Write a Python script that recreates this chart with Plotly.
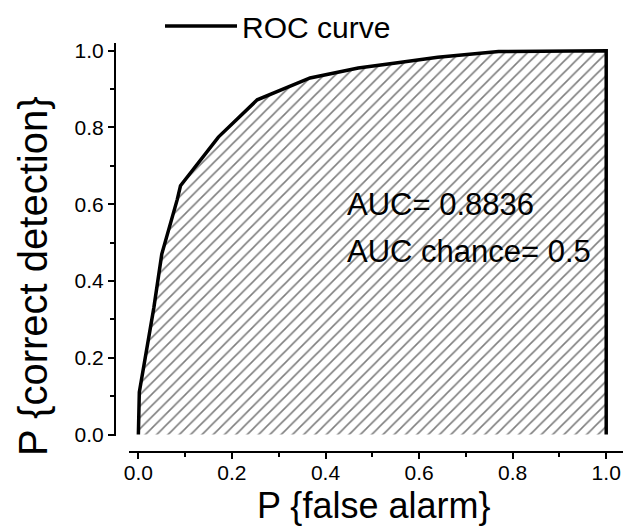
import plotly.graph_objects as go

# ROC curve points
far = [0.0, 0.002, 0.033, 0.05, 0.083, 0.09, 0.171, 0.254, 0.367, 0.47, 0.55, 0.64, 0.77, 1.0, 1.0]
pcd = [0.0, 0.11, 0.33, 0.47, 0.612, 0.648, 0.775, 0.872, 0.929, 0.955, 0.968, 0.983, 0.998, 1.0, 0.0]

x_ticks = [0.0, 0.2, 0.4, 0.6, 0.8, 1.0]
y_ticks = [0.0, 0.2, 0.4, 0.6, 0.8, 1.0]
auc_lines = ["AUC= 0.8836", "AUC chance= 0.5"]
auc_pos_x = 0.442
auc_pos_y = [0.600, 0.476]

FONT = "Liberation Sans, Arial, sans-serif"
W, H = 623, 526

fig = go.Figure()
fig.add_trace(go.Scatter(
    x=far, y=pcd, mode="lines", fill="tozeroy",
    line=dict(width=0, color="rgba(0,0,0,0)"),
    fillpattern=dict(shape="/", size=8, solidity=0.2, fgcolor="black", bgcolor="white"),
    fillcolor="white",
    showlegend=False, hoverinfo="skip", cliponaxis=False,
))
fig.add_trace(go.Scatter(
    x=far, y=pcd, mode="lines", name="ROC curve",
    line=dict(width=3.5, color="black"), cliponaxis=False,
))

for t, yy in zip(auc_lines, auc_pos_y):
    fig.add_annotation(x=auc_pos_x, y=yy, xref="x", yref="y", text=t, showarrow=False,
                       xanchor="left", yanchor="middle",
                       font=dict(family=FONT, size=31, color="black"))

# axis titles placed as in the reference
fig.add_annotation(x=33 / W, y=1 - 276 / H, xref="paper", yref="paper",
                   text="P {correct detection}", textangle=-90, showarrow=False,
                   xanchor="center", yanchor="middle",
                   font=dict(family=FONT, size=40, color="black"))
fig.add_annotation(x=373 / W, y=1 - 505 / H, xref="paper", yref="paper",
                   text="P {false alarm}", showarrow=False, borderpad=0,
                   xanchor="center", yanchor="middle",
                   font=dict(family=FONT, size=36, color="black"))

axis_common = dict(
    showline=True, linecolor="black", linewidth=2,
    ticks="outside", ticklen=6, tickwidth=1.5, tickcolor="black",
    showgrid=False, zeroline=False,
    tickfont=dict(family=FONT, size=21, color="black"),
    tickformat=".1f",
    minor=dict(ticks="outside", ticklen=4, tickwidth=1.5, tickcolor="black", dtick=0.1),
    automargin=False,
)

fig.update_layout(
    width=W, height=H,
    margin=dict(l=0, r=0, t=0, b=0),
    paper_bgcolor="white", plot_bgcolor="rgba(0,0,0,0)",
    xaxis=dict(
        domain=[129.4 / W, 1.0], range=[-0.0192, 1.0359],
        anchor="free", position=1 - 452 / H,
        tickvals=x_ticks, ticklabelstandoff=-4,
        **axis_common,
    ),
    yaxis=dict(
        domain=[1 - 435.5 / H, 1 - 43.3 / H], range=[-0.0026, 1.0193],
        anchor="free", position=115 / W,
        tickvals=y_ticks,
        **axis_common,
    ),
    legend=dict(
        x=160 / W, y=1 - 26 / H, xanchor="left", yanchor="middle",
        bgcolor="rgba(0,0,0,0)", font=dict(family=FONT, size=30, color="black"),
        itemwidth=72,
    ),
    showlegend=True,
)

fig.write_html("out.html")
